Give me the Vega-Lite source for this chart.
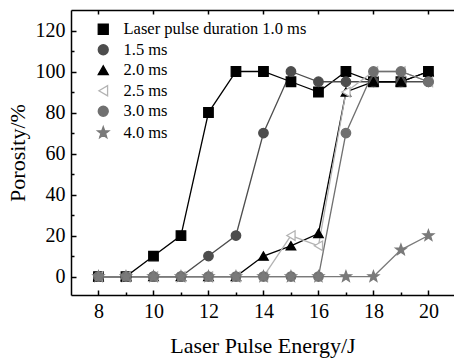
{
  "$schema": "https://vega.github.io/schema/vega-lite/v6.json",
  "width": 383,
  "height": 285,
  "autosize": {"type": "none"},
  "padding": {"left": 71, "top": 10, "right": 0, "bottom": 63},
  "background": "white",
  "config": {
    "view": {"stroke": null},
    "font": "Liberation Serif",
    "axis": {
      "labelFont": "Liberation Serif",
      "titleFont": "Liberation Serif",
      "labelColor": "black",
      "titleColor": "black",
      "domainColor": "black",
      "tickColor": "black",
      "grid": false,
      "labelFontSize": 20,
      "titleFontSize": 22,
      "titleFontWeight": "normal",
      "domainWidth": 1.5,
      "tickWidth": 1.5
    },
    "style": {
      "guide-label": {"font": "Liberation Serif"},
      "guide-title": {"font": "Liberation Serif"}
    }
  },
  "data": {
    "values": [
      {"e": 8, "p": 0, "s": "Laser pulse duration 1.0 ms"},
      {"e": 9, "p": 0, "s": "Laser pulse duration 1.0 ms"},
      {"e": 10, "p": 10, "s": "Laser pulse duration 1.0 ms"},
      {"e": 11, "p": 20, "s": "Laser pulse duration 1.0 ms"},
      {"e": 12, "p": 80, "s": "Laser pulse duration 1.0 ms"},
      {"e": 13, "p": 100, "s": "Laser pulse duration 1.0 ms"},
      {"e": 14, "p": 100, "s": "Laser pulse duration 1.0 ms"},
      {"e": 15, "p": 95, "s": "Laser pulse duration 1.0 ms"},
      {"e": 16, "p": 90, "s": "Laser pulse duration 1.0 ms"},
      {"e": 17, "p": 100, "s": "Laser pulse duration 1.0 ms"},
      {"e": 18, "p": 95, "s": "Laser pulse duration 1.0 ms"},
      {"e": 19, "p": 95, "s": "Laser pulse duration 1.0 ms"},
      {"e": 20, "p": 100, "s": "Laser pulse duration 1.0 ms"},
      {"e": 8, "p": 0, "s": "1.5 ms"},
      {"e": 9, "p": 0, "s": "1.5 ms"},
      {"e": 10, "p": 0, "s": "1.5 ms"},
      {"e": 11, "p": 0, "s": "1.5 ms"},
      {"e": 12, "p": 10, "s": "1.5 ms"},
      {"e": 13, "p": 20, "s": "1.5 ms"},
      {"e": 14, "p": 70, "s": "1.5 ms"},
      {"e": 15, "p": 100, "s": "1.5 ms"},
      {"e": 16, "p": 95, "s": "1.5 ms"},
      {"e": 17, "p": 95, "s": "1.5 ms"},
      {"e": 18, "p": 95, "s": "1.5 ms"},
      {"e": 19, "p": 95, "s": "1.5 ms"},
      {"e": 20, "p": 95, "s": "1.5 ms"},
      {"e": 8, "p": 0, "s": "2.0 ms"},
      {"e": 9, "p": 0, "s": "2.0 ms"},
      {"e": 10, "p": 0, "s": "2.0 ms"},
      {"e": 11, "p": 0, "s": "2.0 ms"},
      {"e": 12, "p": 0, "s": "2.0 ms"},
      {"e": 13, "p": 0, "s": "2.0 ms"},
      {"e": 14, "p": 10, "s": "2.0 ms"},
      {"e": 15, "p": 15, "s": "2.0 ms"},
      {"e": 16, "p": 21, "s": "2.0 ms"},
      {"e": 17, "p": 90, "s": "2.0 ms"},
      {"e": 18, "p": 95, "s": "2.0 ms"},
      {"e": 19, "p": 95, "s": "2.0 ms"},
      {"e": 20, "p": 100, "s": "2.0 ms"},
      {"e": 8, "p": 0, "s": "2.5 ms"},
      {"e": 9, "p": 0, "s": "2.5 ms"},
      {"e": 10, "p": 0, "s": "2.5 ms"},
      {"e": 11, "p": 0, "s": "2.5 ms"},
      {"e": 12, "p": 0, "s": "2.5 ms"},
      {"e": 13, "p": 0, "s": "2.5 ms"},
      {"e": 14, "p": 0, "s": "2.5 ms"},
      {"e": 15, "p": 20, "s": "2.5 ms"},
      {"e": 16, "p": 15, "s": "2.5 ms"},
      {"e": 17, "p": 90, "s": "2.5 ms"},
      {"e": 18, "p": 100, "s": "2.5 ms"},
      {"e": 19, "p": 100, "s": "2.5 ms"},
      {"e": 20, "p": 95, "s": "2.5 ms"},
      {"e": 8, "p": 0, "s": "3.0 ms"},
      {"e": 9, "p": 0, "s": "3.0 ms"},
      {"e": 10, "p": 0, "s": "3.0 ms"},
      {"e": 11, "p": 0, "s": "3.0 ms"},
      {"e": 12, "p": 0, "s": "3.0 ms"},
      {"e": 13, "p": 0, "s": "3.0 ms"},
      {"e": 14, "p": 0, "s": "3.0 ms"},
      {"e": 15, "p": 0, "s": "3.0 ms"},
      {"e": 16, "p": 0, "s": "3.0 ms"},
      {"e": 17, "p": 70, "s": "3.0 ms"},
      {"e": 18, "p": 100, "s": "3.0 ms"},
      {"e": 19, "p": 100, "s": "3.0 ms"},
      {"e": 20, "p": 95, "s": "3.0 ms"},
      {"e": 8, "p": 0, "s": "4.0 ms"},
      {"e": 9, "p": 0, "s": "4.0 ms"},
      {"e": 10, "p": 0, "s": "4.0 ms"},
      {"e": 11, "p": 0, "s": "4.0 ms"},
      {"e": 12, "p": 0, "s": "4.0 ms"},
      {"e": 13, "p": 0, "s": "4.0 ms"},
      {"e": 14, "p": 0, "s": "4.0 ms"},
      {"e": 15, "p": 0, "s": "4.0 ms"},
      {"e": 16, "p": 0, "s": "4.0 ms"},
      {"e": 17, "p": 0, "s": "4.0 ms"},
      {"e": 18, "p": 0, "s": "4.0 ms"},
      {"e": 19, "p": 13, "s": "4.0 ms"},
      {"e": 20, "p": 20, "s": "4.0 ms"}
    ]
  },
  "resolve": {"axis": {"x": "independent", "y": "independent"}},
  "layer": [
    {
      "mark": {"type": "line", "strokeWidth": 1.3},
      "encoding": {
        "x": {"field": "e", "type": "quantitative",
          "scale": {"domain": [7, 20.93], "nice": false, "zero": false},
          "axis": {"orient": "bottom", "values": [8, 10, 12, 14, 16, 18, 20], "tickSize": -5, "labelPadding": 11, "title": "Laser Pulse Energy/J", "titlePadding": 14,
            "labelFont": "Liberation Serif", "titleFont": "Liberation Serif"}},
        "y": {"field": "p", "type": "quantitative",
          "scale": {"domain": [-9, 130], "nice": false, "zero": false},
          "axis": {"orient": "left", "values": [0, 20, 40, 60, 80, 100, 120], "tickSize": -5, "labelPadding": 11, "title": "Porosity/%", "titlePadding": 6,
            "labelFont": "Liberation Serif", "titleFont": "Liberation Serif"}},
        "stroke": {"field": "s", "type": "nominal",
          "scale": {"domain": ["Laser pulse duration 1.0 ms", "1.5 ms", "2.0 ms", "2.5 ms", "3.0 ms", "4.0 ms"],
            "range": ["#000000", "#4d4d4d", "#000000", "#b3b3b3", "#707070", "#7a7a7a"]}}
      }
    },
    {
      "mark": {"type": "point", "filled": true, "size": 90, "strokeWidth": 1.3, "opacity": 1},
      "encoding": {
        "x": {"field": "e", "type": "quantitative",
          "scale": {"domain": [7, 20.93], "nice": false, "zero": false},
          "axis": {"orient": "bottom", "values": [9, 11, 13, 15, 17, 19], "tickSize": -3, "labels": false, "domain": false, "title": null}},
        "y": {"field": "p", "type": "quantitative",
          "scale": {"domain": [-9, 130], "nice": false, "zero": false},
          "axis": {"orient": "left", "values": [10, 30, 50, 70, 90, 110], "tickSize": -3, "labels": false, "domain": false, "title": null}},
        "shape": {"field": "s", "type": "nominal",
          "scale": {"domain": ["Laser pulse duration 1.0 ms", "1.5 ms", "2.0 ms", "2.5 ms", "3.0 ms", "4.0 ms"],
            "range": ["M-1,-1H1V1H-1Z", "circle", "triangle-up", "triangle-left", "circle", "M0,-1.2L0.29,-0.4L1.14,-0.37L0.47,0.15L0.71,0.97L0,0.49L-0.71,0.97L-0.47,0.15L-1.14,-0.37L-0.29,-0.4Z"]},
          "legend": {
            "orient": "none", "legendX": 24, "legendY": 11, "title": null, "padding": 0,
            "labelFont": "Liberation Serif", "labelFontSize": 16.5, "labelColor": "black", "labelLimit": 0,
            "labelOffset": 12, "rowPadding": 3.5, "symbolSize": 100, "symbolStrokeWidth": 1.3,
            "encode": {"symbols": {
              "size": {"value": 100},
              "strokeWidth": {"value": 1.3},
              "opacity": {"value": 1}
            }}
          }},
        "fill": {"field": "s", "type": "nominal",
          "scale": {"domain": ["Laser pulse duration 1.0 ms", "1.5 ms", "2.0 ms", "2.5 ms", "3.0 ms", "4.0 ms"],
            "range": ["#000000", "#4d4d4d", "#000000", "#ffffff", "#707070", "#7a7a7a"]}},
        "stroke": {"field": "s", "type": "nominal"}
      }
    },
    {
      "mark": {"type": "point", "opacity": 0},
      "encoding": {
        "x": {"field": "e", "type": "quantitative",
          "scale": {"domain": [7, 20.93], "nice": false, "zero": false},
          "axis": {"orient": "top", "values": [8, 10, 12, 14, 16, 18, 20], "tickSize": -4, "labels": false, "title": null}},
        "y": {"field": "p", "type": "quantitative",
          "scale": {"domain": [-9, 130], "nice": false, "zero": false},
          "axis": null}
      }
    }
  ]
}
